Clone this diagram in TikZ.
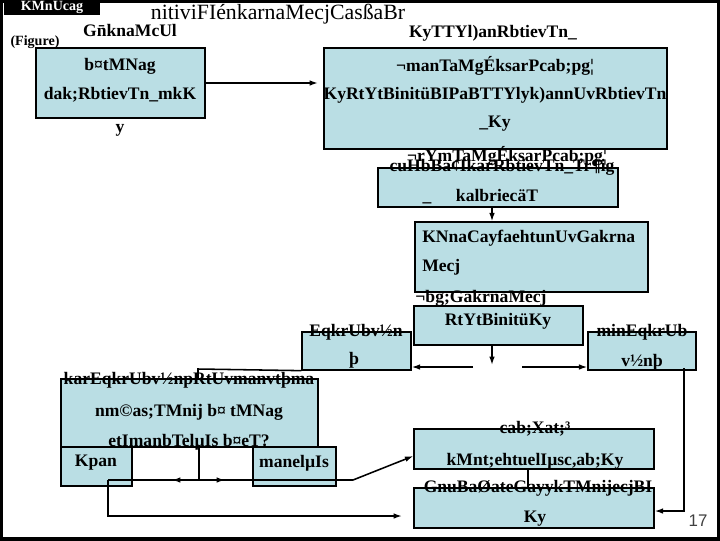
\documentclass[tikz,border=0pt]{standalone}
\usepackage{fontspec}
\setmainfont{Liberation Serif}
\newfontfamily\pagefont{Liberation Sans}
\usetikzlibrary{arrows.meta,calc}
\definecolor{boxblue}{RGB}{186,222,228}

\tikzset{
  box/.style={draw=black, fill=boxblue, line width=0.9pt, inner sep=0pt},
  bsize/.style 2 args={minimum width=#1*0.025cm, minimum height=#2*0.025cm},
  txt/.style={font=\fontsize{12.5}{14}\selectfont\bfseries, inner sep=0pt},
  arr/.style={-{Latex[length=6pt,width=4pt]}, line width=1.1pt},
  conn/.style={line width=1.1pt},
}

\begin{document}
\begin{tikzpicture}[x=0.025cm, y=-0.025cm]
        \useasboundingbox (0,0) rectangle (720,540);
        % ramecek snimku
        \draw[line width=2.5pt] (1,1) rectangle (719,539);
        \node[fill=black, text=white, font=\fontsize{10}{12}\selectfont\bfseries,
              bsize={96}{15}, inner sep=0pt] (hlava) at (52,7.5) {KMnUcag};
        \node[font=\fontsize{15.5}{18}\selectfont, inner sep=0pt] (titul) at (278,14) {nitiviFIénkarnaMecjCasßaBr};
        \node[txt] (gn) at (130,30) {G\=nknaMcUl};
        \node[font=\fontsize{10}{12}\selectfont\bfseries, inner sep=0pt] (fig) at (35,42) {(Figure)};

        % horni rada
        \node[box, bsize={169}{70}] (b1) at (120.5,83) {};
        \node[txt] (b1a) at (120,66) {b¤tMNag};
        \node[txt] (b1b) at (120,95) {dak;RbtievTn\_mkK};
        \node[txt] (b1y) at (120,130) {y};

        \node[txt] (b2t) at (493,33) {KyTTYl)anRbtievTn\_};
        \node[box, bsize={343}{101}] (b2) at (495.5,98.5) {};
        \node[txt] (b2a) at (495,66) {¬manTaMgÉksarPcab;pg¦};
        \node[txt] (b2b) at (495,95) {KyRtYtBinitüBIPaBTTYlyk)annUvRbtievTn};
        \node[txt] (b2c) at (495,124) {\_Ky};
        \draw[arr] (b1.east) -- (318,83);

        % stredni sloupec
        \node[txt] (b3t) at (507,156) {¬rYmTaMgÉksarPcab;pg¦};
        \node[box, bsize={240}{39}] (b3) at (498,187.5) {};
        \node[txt] (b3a) at (502,167) {cuHbBa¢IkarRbtievTn\_Tr¶ig};
        \node[txt] (b3b) at (497,195) {kalbriecäT};
        \node[txt] (b3c) at (427,203) {\_};

        \node[box, bsize={233}{70}] (b4) at (531.5,257) {};
        \node[txt, anchor=west] (b4a) at (422,238) {KNnaCayfaehtunUvGakrna};
        \node[txt, anchor=west] (b4b) at (422,267) {Mecj};
        \draw[arr] (b3.south -| 492,0) -- (b4.north -| 492,0);

        \node[txt] (b5t) at (481,298) {¬bg;GakrnaMecj};
        \node[box, bsize={169}{39}] (b5) at (498.5,325.5) {};
        \node[txt] (b5a) at (498,321) {RtYtBinitüKy};
        \coordinate (roz) at (492,365);
        \draw[arr] (b5.south -| roz) -- (roz);

        % vetveni
        \node[box, bsize={109}{38}] (b6) at (356.5,351) {};
        \node[txt] (b6a) at (356,332) {EqkrUbv½n};
        \node[txt] (b6b) at (354,360) {þ};
        \node[box, bsize={108}{38}] (b7) at (642,351) {};
        \node[txt] (b7a) at (642,332) {minEqkrUb};
        \node[txt] (b7b) at (642,362) {v½nþ};
        \coordinate (vl) at (473,367);
        \coordinate (vp) at (522,367);
        \draw[arr] (vl) -- (b6.east |- vl);
        \draw[arr] (vp) -- (b7.west |- vp);

        % dolni leva cast
        \node[box, bsize={257}{68}] (b8) at (189.5,413) {};
        \node[txt] (b8a) at (189,380) {karEqkrUbv½npRtUvmanvtþma};
        \node[txt] (b8b) at (189,412) {nm©as;TMnij b¤ tMNag};
        \node[txt] (b8c) at (189,442) {etImanbTelµIs b¤eT?};
        \coordinate (ohyb) at (198,369);
        \draw[conn] (b6.south west) -- (ohyb) -- (ohyb |- b8.north);

        \node[box, bsize={71}{39}] (kp) at (96.5,466.5) {};
        \node[txt] (kpa) at (96,463) {Kpan};
        \node[box, bsize={83}{39}] (ml) at (294.5,466.5) {};
        \node[txt] (mla) at (294,463) {manelµIs};
        \coordinate (del) at (199,480);
        \draw[conn] (del |- b8.south) -- (del);
        \draw[arr] ($(del)+(-4,0)$) -- (172,480);
        \draw[arr] ($(del)+(4,0)$) -- (225,480);

        % dolni prava cast
        \node[box, bsize={240}{40}] (b9) at (534,449) {};
        \node[txt] (b9a) at (535,429) {cab;Xat;³};
        \node[txt] (b9b) at (535,461) {kMnt;ehtuelIµsc,ab;Ky};
        \node[box, bsize={240}{40}] (b10) at (534,508) {};
        \node[txt] (b10a) at (538,488) {GnuBaØateGayykTMnijecjBI};
        \node[txt] (b10b) at (535,519) {Ky};
        \draw[conn] (b9.south -| 528,0) -- (b10.north -| 528,0);

        \coordinate (start) at (108,480);
        \coordinate (zlom) at (353,480);
        \draw[arr] (start) -- (zlom) -- ($(b9.west)+(0,7)$);
        \draw[arr] (start) |- (402,516);
        \coordinate (pr) at (684,368);
        \draw[arr] (pr) |- ($(b10.east)+(0,3)$);

        \node[font=\pagefont\fontsize{12}{14}\selectfont, text=black!75, inner sep=0pt] (cislo) at (698,521) {17};
\end{tikzpicture}
\end{document}
